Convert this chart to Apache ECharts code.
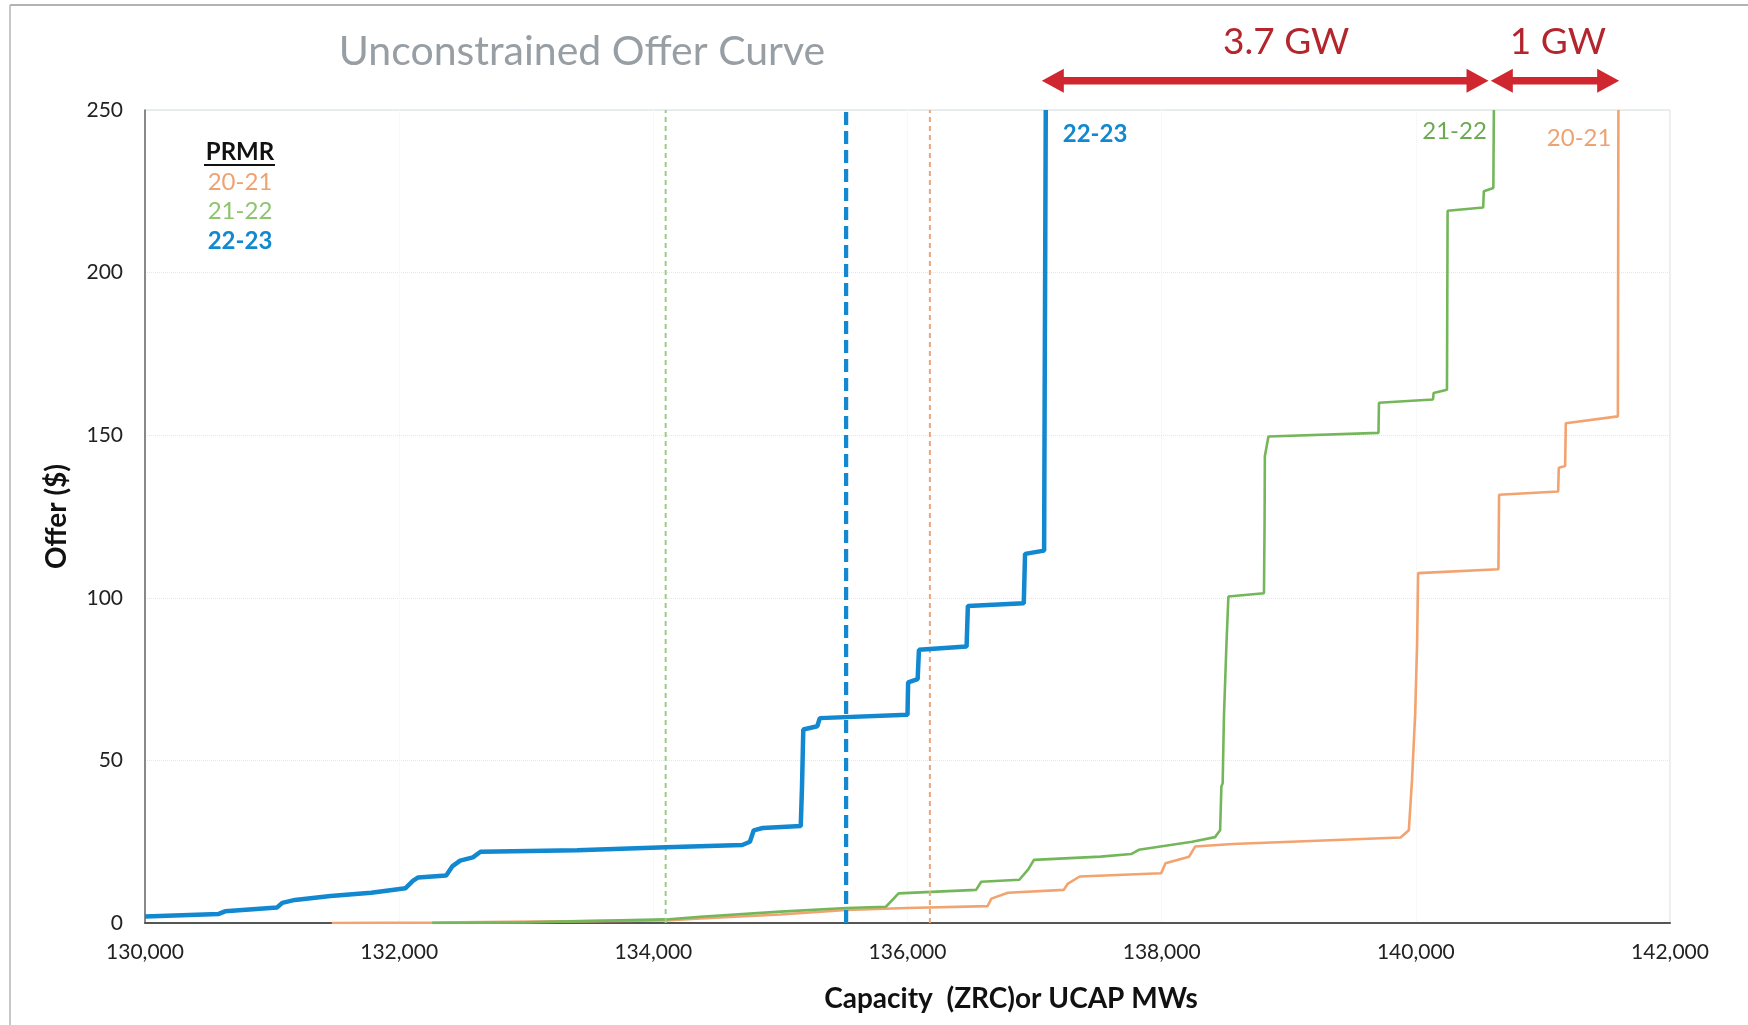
<!DOCTYPE html>
<html><head><meta charset="utf-8">
<script src="https://cdn.jsdelivr.net/npm/echarts@6/dist/echarts.min.js"></script>
<style>html,body{margin:0;padding:0;background:#fff;}#c{width:1748px;height:1025px;}</style>
</head><body><div id="c"></div>
<script>
// ---------- data ----------
const xTicks = [130000, 132000, 134000, 136000, 138000, 140000, 142000];
const yTicks = [0, 50, 100, 150, 200, 250];

const s2223X = [130000,130580,130630,131040,131080,131180,131460,131780,132050,132110,132150,132370,132420,132480,132580,132640,133400,134100,134700,134760,134790,134860,135160,135170,135180,135290,135310,136000,136005,136080,136090,136465,136475,136915,136925,137075,137080,137088];
const s2223Y = [2.0,2.8,3.6,4.8,6.2,7.1,8.3,9.3,10.7,13.0,14.0,14.6,17.5,19.2,20.2,21.9,22.4,23.3,24.0,25.0,28.5,29.2,29.8,42,59.5,60.5,63,64,74,75,84,85,97.5,98.3,113.5,114.5,170,250];

const s2122X = [132260,133000,134100,134370,135000,135520,135830,135930,136540,136580,136880,136950,136995,137520,137760,137820,138240,138420,138460,138470,138480,138490,138510,138525,138805,138810,138812,138840,139706,139710,140135,140140,140245,140250,140530,140535,140610,140614];
const s2122Y = [0,0.2,1.1,1.9,3.5,4.6,5.0,9.1,10.2,12.7,13.3,16.5,19.4,20.4,21.2,22.5,25,26.4,28.5,42,43,63.5,86,100.4,101.4,124,143.5,149.6,150.7,160,161,163,164,219,220,225,226,250];

const s2021X = [131470,132260,134100,134370,135000,135520,136000,136630,136660,136790,137230,137260,137355,137996,138030,138216,138263,138560,139880,139945,139970,139995,140010,140018,140650,140655,141120,141125,141175,141180,141590,141594];
const s2021Y = [0,0.1,0.8,1.4,2.6,4.0,4.6,5.2,7.5,9.3,10.2,12,14.3,15.3,18.4,20.4,23.5,24.3,26.3,28.5,44,64.5,86,107.6,108.8,131.7,132.7,140,140.5,153.7,155.8,250];

const prmrNames = ['20-21', '21-22', '22-23'];
const prmrX = [136176, 134097, 135517];

const arrowSpans = [[137057, 140572], [140590, 141600]];
const arrowLabels = ['3.7 GW', '1 GW'];
const arrowLabelX = [138980, 141118];
const arrowY = 259;
const arrowLabelY = 271;

// ---------- styles ----------
const cOrange = '#f2a36f', cGreen = '#74b75b', cBlue = '#1188d0', cRed = '#cf2630', cRedText = '#b3262d';
const font = 'Lato, "Open Sans", sans-serif';

function pairs(xs, ys) { return xs.map((x, i) => [x, ys[i]]); }

const chart = echarts.init(document.getElementById('c'));
const series = [
  { name: '20-21', type: 'line', data: pairs(s2021X, s2021Y), showSymbol: false, z: 2,
    lineStyle: { color: cOrange, width: 2.6 } },
  { name: '21-22', type: 'line', data: pairs(s2122X, s2122Y), showSymbol: false, z: 3,
    lineStyle: { color: cGreen, width: 2.6 } },
  { name: '22-23', type: 'line', data: pairs(s2223X, s2223Y), showSymbol: false, z: 4,
    lineStyle: { color: cBlue, width: 4.5 } },
  { name: 'PRMR 20-21', type: 'line', data: [[prmrX[0], 0], [prmrX[0], 250]], showSymbol: false, z: 3,
    lineStyle: { color: '#e8a67a', width: 2, type: [5, 4] } },
  { name: 'PRMR 21-22', type: 'line', data: [[prmrX[1], 0], [prmrX[1], 250]], showSymbol: false, z: 3,
    lineStyle: { color: '#9ccc84', width: 2, type: [5, 4] } },
  { name: 'PRMR 22-23', type: 'line', data: [[prmrX[2], 0], [prmrX[2], 250]], showSymbol: false, z: 5,
    lineStyle: { color: cBlue, width: 4.2, type: [13, 6] } }
];

chart.setOption({
  animation: false,
  backgroundColor: '#ffffff',
  grid: { left: 145, right: 78, top: 110, bottom: 102, show: true, borderColor: '#d3dde3', borderWidth: 1 },
  xAxis: {
    type: 'value', min: xTicks[0], max: xTicks[xTicks.length - 1], interval: 2000,
    axisLine: { show: true, lineStyle: { color: '#555', width: 2 } },
    axisTick: { show: false },
    splitLine: { show: true, lineStyle: { color: '#f1f1f1', type: 'dotted' } },
    axisLabel: { fontFamily: font, fontSize: 21, color: '#222', margin: 19,
      formatter: v => v.toLocaleString('en-US') },
    name: 'Capacity  (ZRC)or UCAP MWs', nameLocation: 'middle', nameGap: 62,
    nameTextStyle: { fontFamily: font, fontSize: 28, fontWeight: 'bold', color: '#111', padding: [0, 0, 0, 207] }
  },
  yAxis: {
    type: 'value', min: yTicks[0], max: yTicks[yTicks.length - 1], interval: 50,
    axisLine: { show: true, lineStyle: { color: '#666', width: 1.5 } },
    axisTick: { show: false },
    splitLine: { show: true, lineStyle: { color: '#e6e6e6', type: 'dotted' } },
    axisLabel: { fontFamily: font, fontSize: 21, color: '#222', margin: 22 },
    name: 'Offer ($)', nameLocation: 'middle', nameGap: 74, nameRotate: 90,
    nameTextStyle: { fontFamily: font, fontSize: 28, fontWeight: 'bold', color: '#111' }
  },
  series: series
});

// ---------- annotations ----------
function px(x, y) { return chart.convertToPixel({ gridIndex: 0 }, [x, y]); }
const graphics = [];

// scan border
graphics.push({ type: 'line', shape: { x1: 10, y1: 5, x2: 1748, y2: 5 }, style: { stroke: '#9a9a9a', lineWidth: 1.5 } });
graphics.push({ type: 'line', shape: { x1: 10, y1: 5, x2: 10, y2: 1025 }, style: { stroke: '#b5b5b5', lineWidth: 1.5 } });

// title
graphics.push({ type: 'text', x: 582, y: 52, style: { text: 'Unconstrained Offer Curve', fontFamily: font, fontSize: 41,
  fill: '#979ea4', textAlign: 'center', textVerticalAlign: 'middle' } });

// arrows
arrowSpans.forEach((sp, i) => {
  const a = px(sp[0], arrowY), b = px(sp[1], arrowY);
  const y = a[1], x1 = a[0], x2 = b[0], hl = 22, hh = 12, sh = 3.8;
  graphics.push({ type: 'polygon', shape: { points: [
    [x1, y], [x1 + hl, y - hh], [x1 + hl, y - sh], [x2 - hl, y - sh], [x2 - hl, y - hh], [x2, y],
    [x2 - hl, y + hh], [x2 - hl, y + sh], [x1 + hl, y + sh], [x1 + hl, y + hh]] },
    style: { fill: cRed } });
  const t = px(arrowLabelX[i], arrowLabelY);
  graphics.push({ type: 'text', x: t[0], y: t[1], style: { text: arrowLabels[i], fontFamily: font, fontSize: 37,
    fill: cRedText, textAlign: 'center', textVerticalAlign: 'middle' } });
});

// curve-end labels
const lbl = [
  { text: '22-23', x: s2223X[s2223X.length - 1], dx: 17, align: 'left', dy: 24, color: cBlue, w: 'bold' },
  { text: '21-22', x: s2122X[s2122X.length - 1], dx: -7, align: 'right', dy: 21, color: '#6aab52', w: 'normal' },
  { text: '20-21', x: s2021X[s2021X.length - 1], dx: -7, align: 'right', dy: 28, color: '#eea271', w: 'normal' }
];
lbl.forEach(l => {
  const p = px(l.x, 250);
  graphics.push({ type: 'text', x: p[0] + l.dx, y: p[1] + l.dy, style: { text: l.text, fontFamily: font, fontSize: 24,
    fontWeight: l.w, fill: l.color, textAlign: l.align, textVerticalAlign: 'middle' } });
});

// PRMR legend
graphics.push({ type: 'text', x: 240, y: 152, style: { text: 'PRMR', fontFamily: font, fontSize: 24, fontWeight: 'bold',
  fill: '#111', textAlign: 'center', textVerticalAlign: 'middle' } });
graphics.push({ type: 'line', shape: { x1: 204, y1: 165, x2: 275, y2: 165 }, style: { stroke: '#111', lineWidth: 2 } });
const legendColors = ['#eea271', '#8cc46f', cBlue];
const legendWeights = ['normal', 'normal', 'bold'];
prmrNames.forEach((n, i) => {
  graphics.push({ type: 'text', x: 240, y: 182 + i * 29.5, style: { text: n, fontFamily: font, fontSize: 24,
    fontWeight: legendWeights[i], fill: legendColors[i], textAlign: 'center', textVerticalAlign: 'middle' } });
});

chart.setOption({ graphic: graphics });
</script>
</body></html>
